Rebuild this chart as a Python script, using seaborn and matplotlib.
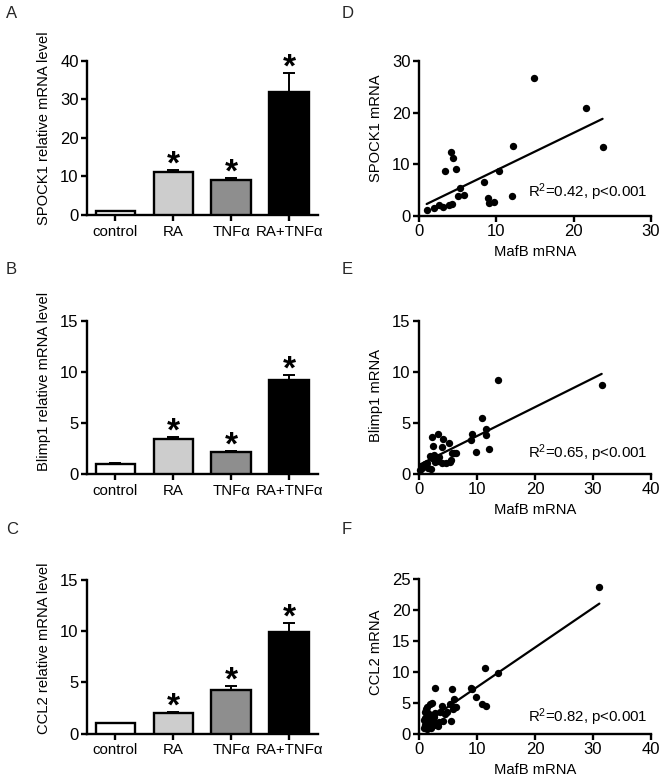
import numpy as np
import pandas as pd
import matplotlib
matplotlib.use("Agg")
import matplotlib.pyplot as plt
import seaborn as sns

sns.set_theme(style="ticks")
plt.rcParams['font.family'] = ['Liberation Sans', 'DejaVu Sans']
plt.rcParams['mathtext.fontset'] = 'custom'
plt.rcParams['mathtext.rm'] = 'Liberation Sans'
plt.rcParams['mathtext.it'] = 'Liberation Sans:italic'

# ---------------- data ----------------
groups = ["control", "RA", "TNFα", "RA+TNFα"]
bar_colors = ["#ffffff", "#cdcdcd", "#8e8e8e", "#000000"]

spock1_mean = [1.0, 11.1, 9.1, 31.9]
spock1_err = [0.15, 0.6, 0.5, 4.9]
blimp1_mean = [1.0, 3.42, 2.12, 9.22]
blimp1_err = [0.1, 0.16, 0.13, 0.48]
ccl2_mean = [1.0, 2.03, 4.28, 9.87]
ccl2_err = [0.06, 0.1, 0.36, 0.95]
stars = [False, True, True, True]

# Scatter D: MafB vs SPOCK1
d_x = [0.99, 1.94, 2.59, 3.15, 3.37, 3.93, 4.10, 4.32, 4.36, 4.75, 5.09, 5.27,
       5.87, 8.46, 8.89, 9.02, 9.75, 10.36, 12.04, 12.21, 14.93, 21.62, 23.74]
d_y = [1.1, 1.55, 2.07, 1.75, 8.66, 2.07, 12.35, 2.2, 11.1, 9.1, 3.8, 5.3,
       4.0, 6.46, 3.36, 2.5, 2.6, 8.6, 3.8, 13.6, 26.7, 20.9, 13.3]

# Scatter E: MafB vs Blimp1
e_x = [0.2, 0.45, 0.75, 1.0, 1.3, 1.6, 1.9, 2.0, 2.2, 2.3, 2.4, 2.5, 2.7, 2.8,
       3.2, 3.3, 3.4, 3.9, 3.9, 4.2, 4.7, 5.1, 5.3, 5.6, 5.7, 6.1, 6.3, 9.0,
       9.1, 9.8, 10.8, 11.5, 11.6, 12.0, 13.7, 31.5]
e_y = [0.35, 0.55, 0.8, 0.95, 1.05, 0.6, 1.75, 0.45, 1.6, 3.6, 2.7, 1.85, 1.2,
       1.5, 1.3, 3.95, 1.7, 2.6, 1.1, 3.4, 1.1, 3.05, 1.2, 1.4, 2.1, 2.1, 2.1,
       3.3, 3.9, 2.2, 5.45, 4.45, 3.85, 2.45, 9.2, 8.75]

# Scatter F: MafB vs CCL2
f_x = [31.1, 11.45, 13.6, 9.0, 9.2, 2.8, 5.7, 9.8, 6.1, 6.2, 5.4, 10.8, 11.6,
       3.9, 1.4, 1.9, 2.3, 5.5, 4.2, 3.3, 4.5, 3.6, 2.8, 4.8, 2.8, 3.5, 0.8,
       1.0, 1.2, 1.1, 1.3, 1.0, 1.5, 1.7, 2.0, 2.2, 1.6, 2.0, 2.5, 1.3, 0.9,
       1.8, 2.4, 1.2, 2.6, 5.8, 6.3]
f_y = [23.7, 10.6, 9.8, 7.5, 7.2, 7.4, 7.2, 6.0, 5.6, 4.3, 4.8, 4.8, 4.6,
       4.6, 4.4, 4.9, 5.0, 2.1, 2.1, 1.3, 3.3, 3.5, 3.4, 3.6, 1.7, 1.9, 1.0,
       1.5, 2.0, 2.6, 3.0, 3.5, 3.4, 2.8, 2.4, 3.0, 1.2, 1.0, 1.5, 0.8, 2.2,
       1.8, 2.0, 4.0, 2.7, 4.0, 4.4]

bar_panels = [
    ("A", "SPOCK1 relative mRNA level", spock1_mean, spock1_err, 40, [0, 10, 20, 30, 40]),
    ("B", "Blimp1 relative mRNA level", blimp1_mean, blimp1_err, 15, [0, 5, 10, 15]),
    ("C", "CCL2 relative mRNA level", ccl2_mean, ccl2_err, 15, [0, 5, 10, 15]),
]
scatter_panels = [
    ("D", "SPOCK1 mRNA", d_x, d_y, 30, 30, [0, 10, 20, 30], [0, 10, 20, 30], "R$^2$=0.42, p<0.001", 0.15),
    ("E", "Blimp1 mRNA", e_x, e_y, 40, 15, [0, 10, 20, 30, 40], [0, 5, 10, 15], "R$^2$=0.65, p<0.001", 0.137),
    ("F", "CCL2 mRNA", f_x, f_y, 40, 25, [0, 10, 20, 30, 40], [0, 5, 10, 15, 20, 25], "R$^2$=0.82, p<0.001", 0.11),
]

# ---------------- layout ----------------
W, H = 663, 783
fig = plt.figure(figsize=(W / 100, H / 100), dpi=100)

def px_axes(left, right, top, bottom):
    return fig.add_axes([left / W, 1 - bottom / H, (right - left) / W, (bottom - top) / H])

bar_rows = [(61, 215), (320.5, 474), (580, 733.5)]
sc_rows = [(61, 215.7), (320.7, 474), (579.3, 734)]
letter_y = [14, 270, 529]
bar_label_y = [0.565, 0.6, 0.557]
sc_label_y = [0.567, 0.515, 0.53]

LW = 1.7
NUM_FS = 12
CAT_FS = 10.8
LAB_FS = 10.6

def style_axes(ax):
    sns.despine(ax=ax)
    for s in ("left", "bottom"):
        ax.spines[s].set_linewidth(LW)
        ax.spines[s].set_color("black")
    ax.tick_params(axis="both", direction="out", length=4, width=LW,
                   labelsize=NUM_FS, colors="black", pad=2)
    ax.set_facecolor("white")

for i, (letter, ylabel, means, errs, ymax, yticks) in enumerate(bar_panels):
    top, bottom = bar_rows[i]
    ax = px_axes(87, 318, top, bottom)
    df = pd.DataFrame({"group": groups, "value": means})
    sns.barplot(data=df, x="group", y="value", hue="group", palette=bar_colors,
                order=groups, hue_order=groups, legend=False, ax=ax,
                width=0.68, edgecolor="black", linewidth=LW, errorbar=None,
                zorder=3)
    pos = np.arange(len(groups))
    ax.errorbar(pos, means, yerr=[np.zeros(len(errs)), errs], fmt="none",
                ecolor="black", elinewidth=1.4, capsize=4.3, capthick=1.4, zorder=2)
    for j in range(len(groups)):
        if stars[j]:
            ax.annotate("*", (pos[j], means[j] + errs[j]), xytext=(0, 3.5),
                        textcoords="offset points", ha="center", va="center",
                        fontsize=24, fontweight="bold", color="black")
    ax.set_xlim(-0.49, 3.5)
    ax.set_ylim(0, ymax)
    ax.set_yticks(yticks)
    ax.set_xlabel("")
    ax.set_ylabel(ylabel, fontsize=LAB_FS, color="black")
    ax.yaxis.set_label_coords(-0.158, bar_label_y[i])
    style_axes(ax)
    ax.tick_params(axis="x", length=4, pad=3, labelsize=CAT_FS)
    fig.text(6 / W, 1 - letter_y[i] / H, letter, fontsize=12, ha="left", va="center")

for i, (letter, ylabel, xs, ys, xmax, ymax, xticks, yticks, txt, ty) in enumerate(scatter_panels):
    top, bottom = sc_rows[i]
    ax = px_axes(419, 651, top, bottom)
    df = pd.DataFrame({"MafB": xs, "val": ys})
    sns.regplot(data=df, x="MafB", y="val", ci=None, ax=ax,
                scatter_kws=dict(s=28, color="black", alpha=1, linewidths=0,
                                 clip_on=False, zorder=4),
                line_kws=dict(color="black", linewidth=1.6))
    ax.set_xlim(0, xmax)
    ax.set_ylim(0, ymax)
    ax.set_xticks(xticks)
    ax.set_yticks(yticks)
    ax.set_xlabel("MafB mRNA", fontsize=LAB_FS, color="black", labelpad=4)
    ax.set_ylabel(ylabel, fontsize=LAB_FS, color="black")
    ax.yaxis.set_label_coords(-0.155, sc_label_y[i])
    style_axes(ax)
    ax.text(0.985, ty, txt, transform=ax.transAxes, ha="right", va="center",
            fontsize=10.8, color="black")
    fig.text(342 / W, 1 - letter_y[i] / H, letter, fontsize=12, ha="left", va="center")

fig.savefig("out.png", dpi=100, facecolor="white")
